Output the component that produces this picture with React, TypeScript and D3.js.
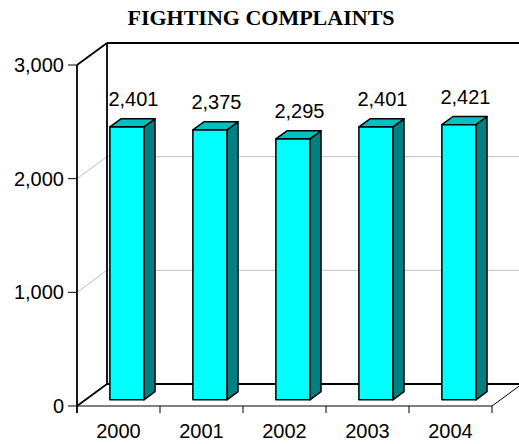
import React from "react";
import * as d3 from "d3";

const categories = ["2000", "2001", "2002", "2003", "2004"];
const values = [2401, 2375, 2295, 2401, 2421];
const yTicks = [0, 1000, 2000, 3000];
const title = "FIGHTING COMPLAINTS";

const W = 519;
const H = 444;
const X0 = 77;
const X1 = 492;
const Y0 = 406;
const Y1 = 65;
const DX = 30;
const DY = -22;

export default function App() {
  const x = d3.scaleBand<string>().domain(categories).range([X0, X1]).paddingInner(0).paddingOuter(0);
  const y = d3.scaleLinear().domain([0, 3000]).range([Y0, Y1]);
  const fmt = d3.format(",");
  const fFront = 0.28;
  const fBack = 0.65;
  const barW = x.bandwidth() * 0.41;

  const font = "'Liberation Sans', Arial, sans-serif";

  return (
    <svg width={W} height={H} style={{ position: "absolute", left: 0, top: 0, background: "#fff" }}>
      <text x={261} y={25} textAnchor="middle" fontFamily="'Liberation Serif', 'Times New Roman', serif" fontWeight="bold" fontSize={22}>
        {title}
      </text>
      {/* gridlines back wall and side wall */}
      {yTicks.filter((t) => t > 0 && t < 3000).map((t) => (
        <g key={"g" + t}>
          <line x1={X0 + DX} x2={W} y1={y(t) + DY} y2={y(t) + DY} stroke="#c0c0c0" strokeWidth={1} />
          <line x1={X0} x2={X0 + DX} y1={y(t)} y2={y(t) + DY} stroke="#c0c0c0" strokeWidth={1} />
        </g>
      ))}
      {/* back wall */}
      <line x1={X0 + DX} x2={X0 + DX} y1={Y1 + DY} y2={Y0 + DY} stroke="#000" strokeWidth={1.8} />
      <line x1={X0 + DX} x2={W} y1={Y1 + DY} y2={Y1 + DY} stroke="#000" strokeWidth={1.8} />
      <line x1={X0 + DX} x2={W} y1={Y0 + DY} y2={Y0 + DY} stroke="#000" strokeWidth={2} />
      {/* side wall */}
      <line x1={X0} x2={X0 + DX} y1={Y1} y2={Y1 + DY} stroke="#000" strokeWidth={1.8} />
      <line x1={X0} x2={X0 + DX} y1={Y0} y2={Y0 + DY} stroke="#000" strokeWidth={1.8} />
      {/* floor */}
      <line x1={X1} x2={X1 + DX} y1={Y0} y2={Y0 + DY} stroke="#000" strokeWidth={1} />
      {/* bars */}
      {categories.map((c, i) => {
        const v = values[i];
        const bx = (x(c) as number) + x.bandwidth() / 2 - barW / 2 + DX * fFront;
        const by0 = Y0 + DY * fFront;
        const byTop = y(v) + DY * fFront;
        const ddx = DX * (fBack - fFront);
        const ddy = DY * (fBack - fFront);
        const front = `M${bx},${by0}L${bx},${byTop}L${bx + barW},${byTop}L${bx + barW},${by0}Z`;
        const side = `M${bx + barW},${by0}L${bx + barW},${byTop}L${bx + barW + ddx},${byTop + ddy}L${bx + barW + ddx},${by0 + ddy}Z`;
        const top = `M${bx},${byTop}L${bx + ddx},${byTop + ddy}L${bx + barW + ddx},${byTop + ddy}L${bx + barW},${byTop}Z`;
        return (
          <g key={c}>
            <path d={side} fill="#008080" stroke="#000" strokeWidth={1.5} strokeLinejoin="round" />
            <path d={top} fill="#00c0c0" stroke="#000" strokeWidth={1.5} strokeLinejoin="round" />
            <path d={front} fill="#00ffff" stroke="#000" strokeWidth={1.5} strokeLinejoin="round" />
            <text x={bx + (barW + ddx) / 2 + 1} y={byTop + ddy - 12.5} textAnchor="middle" fontFamily={font} fontSize={20}>
              {fmt(v)}
            </text>
          </g>
        );
      })}
      {/* front axes */}
      <line x1={X0} x2={X0} y1={Y1} y2={Y0 + 7} stroke="#000" strokeWidth={1.8} />
      <line x1={X0} x2={X1} y1={Y0} y2={Y0} stroke="#000" strokeWidth={1} />
      {yTicks.map((t) => (
        <g key={"t" + t}>
          <line x1={X0 - 9} x2={X0} y1={y(t)} y2={y(t)} stroke="#000" strokeWidth={1} />
          <text x={X0 - 13} y={y(t) + 7} textAnchor="end" fontFamily={font} fontSize={20}>
            {fmt(t)}
          </text>
        </g>
      ))}
      {categories.map((c) => (
        <g key={"x" + c}>
          <line x1={(x(c) as number) + x.bandwidth()} x2={(x(c) as number) + x.bandwidth()} y1={Y0} y2={Y0 + 7} stroke="#000" strokeWidth={1} />
          <text x={(x(c) as number) + x.bandwidth() / 2} y={Y0 + 32} textAnchor="middle" fontFamily={font} fontSize={20}>
            {c}
          </text>
        </g>
      ))}
    </svg>
  );
}
